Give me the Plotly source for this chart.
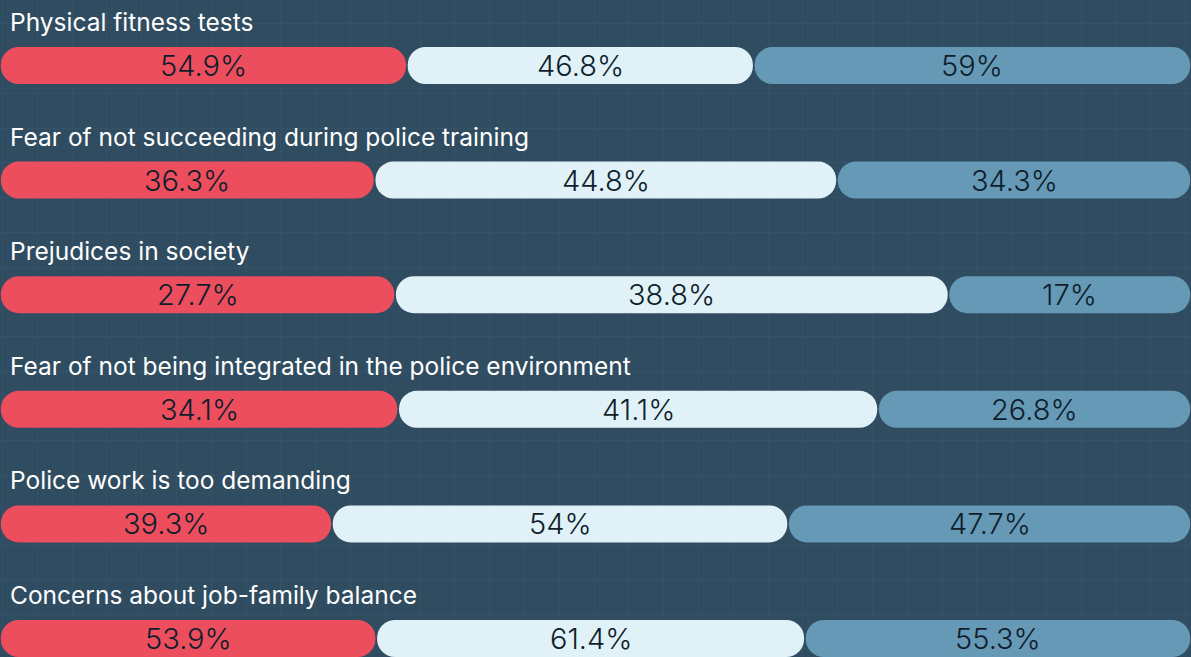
import plotly.graph_objects as go

categories = [
    "Physical fitness tests",
    "Fear of not succeeding during police training",
    "Prejudices in society",
    "Fear of not being integrated in the police environment",
    "Police work is too demanding",
    "Concerns about job-family balance",
]
group_a = [54.9, 36.3, 27.7, 34.1, 39.3, 53.9]
group_b = [46.8, 44.8, 38.8, 41.1, 54.0, 61.4]
group_c = [59.0, 34.3, 17.0, 26.8, 47.7, 55.3]

colors = ["#EC4E5D", "#E0F2F7", "#6699B5"]
BG = "#304C60"
GRID = "#365267"

W, H = 1191, 657
ROW_PX = 114.6          # pixel distance between rows
FIRST_PX = 65.5         # pixel centre of first bar
BAR_PX = 37             # bar thickness in px
GAP_PX = 0.8            # half-gap between segments in px

px_to_x = 100.0 / W
y_top = -FIRST_PX / ROW_PX
y_bottom = y_top + H / ROW_PX

fig = go.Figure()
annotations = []

series = [group_a, group_b, group_c]
n = len(categories)
ys = list(range(n))
bar_w = BAR_PX / ROW_PX
gap = GAP_PX * px_to_x

starts = [[0.0] * n for _ in series]
ends = [[0.0] * n for _ in series]
for i in range(n):
    tot = sum(s[i] for s in series)
    acc = 0.0
    for k, s in enumerate(series):
        w = s[i] / tot * 100.0
        starts[k][i] = acc
        ends[k][i] = acc + w
        acc += w

for k in range(len(series)):
    base = [starts[k][i] + gap for i in range(n)]
    length = [ends[k][i] - starts[k][i] - 2 * gap for i in range(n)]
    fig.add_trace(go.Bar(
        x=length, y=ys, base=base, orientation="h", width=bar_w,
        marker=dict(color=colors[k], line=dict(width=0), cornerradius="50%"),
        hoverinfo="skip", showlegend=False,
    ))
    for i in range(n):
        annotations.append(dict(
            x=(starts[k][i] + ends[k][i]) / 2, y=ys[i], xref="x", yref="y",
            text=f"{series[k][i]:g}%", showarrow=False,
            xanchor="center", yanchor="middle",
            font=dict(family="Inter", size=29, color="#0F1E2C", weight=300),
        ))

for i, c in enumerate(categories):
    annotations.append(dict(
        x=0, y=ys[i], xref="x", yref="y", text=c, showarrow=False,
        xanchor="left", yanchor="middle", xshift=8, yshift=43.5,
        font=dict(family="Inter", size=24.5, color="#FFFFFF"),
    ))

fig.update_layout(
    width=W, height=H,
    margin=dict(l=0, r=0, t=0, b=0),
    paper_bgcolor=BG, plot_bgcolor=BG,
    barmode="overlay",
    annotations=annotations,
    xaxis=dict(range=[0, 100], showticklabels=False, zeroline=False,
               showgrid=True, gridcolor=GRID, gridwidth=1,
               tick0=2.5 * px_to_x, dtick=34.8 * px_to_x, fixedrange=True),
    yaxis=dict(range=[y_bottom, y_top], showticklabels=False, zeroline=False,
               showgrid=True, gridcolor=GRID, gridwidth=1,
               tick0=y_top + 23.8 / ROW_PX, dtick=34.75 / ROW_PX, fixedrange=True),
)

fig.write_html(
    "out.html",
    config={"displayModeBar": False},
    post_script="document.body.style.margin='0';document.body.style.overflow='hidden';",
)
